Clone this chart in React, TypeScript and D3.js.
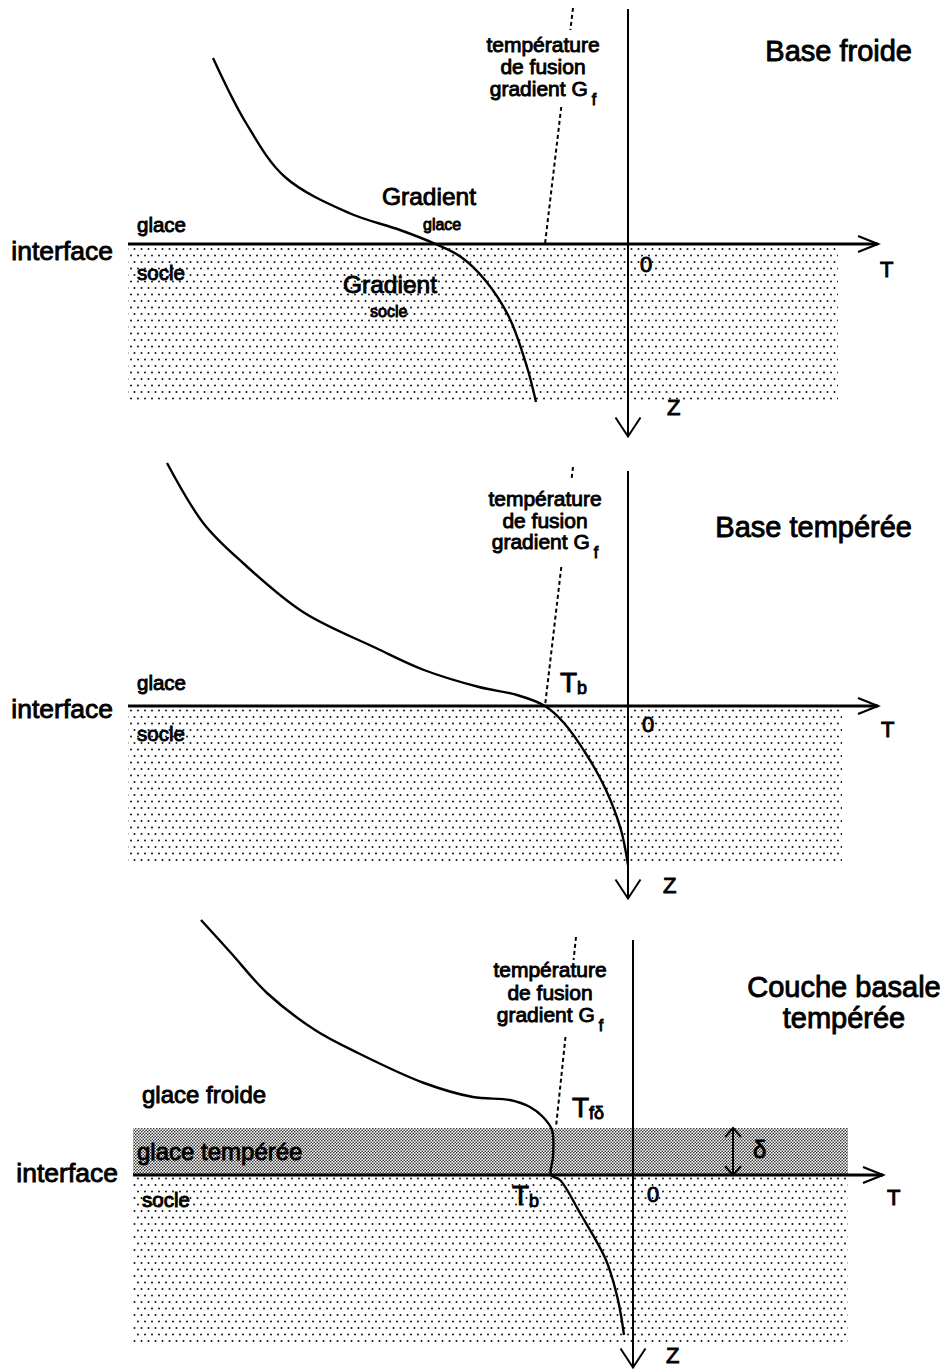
import React from 'react';
import * as d3 from 'd3';

// ---------- DATA (T: temperature units, 0 = T axis origin; z: depth units, 0 = interface, + downward) ----------
const TITLES: string[][] = [['Base froide'], ['Base tempérée'], ['Couche basale', 'tempérée']];

const PROFILE_COLD: [number, number][] = [
  [-83, -37.2], [-76.4, -24.2], [-68.6, -13.4], [-55.8, -6.2], [-45.6, -2.8], [-38.5, 0],
  [-33.4, 2.6], [-28.6, 7.2], [-23.8, 14.6], [-20.2, 24.6], [-18.4, 31.6],
];
const PROFILE_TEMPERATE: [number, number][] = [
  [-92.2, -48.6], [-84.8, -36.4], [-77, -28.6], [-65, -18.8], [-50.4, -11.6], [-40.8, -7.2],
  [-29.8, -3.8], [-22.2, -2.2], [-16.6, 0], [-12.8, 3.4], [-8, 10.2], [-4.4, 16.8], [-1.4, 24.8], [0, 31.8],
];
const PROFILE_LAYER: [number, number][] = [
  [-86.4, -51], [-80.4, -44.4], [-73.2, -36.4], [-63.6, -29], [-55, -24.4], [-41.8, -18.4],
  [-32, -15.6], [-24.6, -15], [-20.6, -13.6], [-18, -11.6], [-16.2, -9], [-16, -3.6], [-16.4, 0],
  [-14.6, 1], [-10.6, 7.6], [-5.4, 17], [-3, 25], [-1.8, 32],
];
const PROFILES = [PROFILE_COLD, PROFILE_TEMPERATE, PROFILE_LAYER];

// melting-point (G_f) lines: [top, bottom] and the depth gap left for its label
const MELT_LINES: [number, number][][] = [
  [[-11, -47.2], [-16.6, 0]],
  [[-11, -47.8], [-16.6, 0]],
  [[-11.4, -47.6], [-15.4, -9.6]],
];
const MELT_GAPS: [number, number][] = [[-42.8, -27.4], [-45.2, -27.8], [-43, -27.6]];
const MELT_LABEL = ['température', 'de fusion', 'gradient G'];
const MELT_LABEL_T = [-17, -16.6, -16.6];
const MELT_LABEL_Z = [[-38.4, -34, -29.6], [-40, -35.6, -31.4], [-39.6, -35, -30.6]];

const T_RANGE: [number, number] = [-100, 50];
const Z_RANGE: [number, number] = [-47, 38.5];
const SOCLE_RIGHT = [42, 42.8, 43];
const SOCLE_DEPTH = [31.2, 31.8, 33.4];
const DELTA_TOP = -9.4; // top of temperate basal layer
const DELTA_T = 20;

type Label = { text: string; T: number; z: number; kind: string; anchor?: string; sub?: string };
const LABELS: Label[][] = [
  [
    { text: 'glace', T: -98.2, z: -2.4, kind: 'small' },
    { text: 'socle', T: -98.2, z: 7.2, kind: 'small' },
    { text: 'interface', T: -103, z: 3.2, kind: 'iface', anchor: 'end' },
    { text: 'Gradient', T: -49.2, z: -7.8, kind: 'grad' },
    { text: 'glace', T: -41, z: -2.8, kind: 'tiny' },
    { text: 'Gradient', T: -57, z: 9.8, kind: 'grad' },
    { text: 'socle', T: -51.6, z: 14.6, kind: 'tiny' },
    { text: '0', T: 2.4, z: 5.6, kind: 'axis' },
    { text: 'T', T: 50.4, z: 6.6, kind: 'axis' },
    { text: 'Z', T: 7.8, z: 34.2, kind: 'axis' },
  ],
  [
    { text: 'glace', T: -98.2, z: -3.2, kind: 'small' },
    { text: 'socle', T: -98.2, z: 7, kind: 'small' },
    { text: 'interface', T: -103, z: 2.4, kind: 'iface', anchor: 'end' },
    { text: 'T', sub: 'b', T: -13.6, z: -2.8, kind: 'temp' },
    { text: '0', T: 2.8, z: 5.2, kind: 'axis' },
    { text: 'T', T: 50.6, z: 6.2, kind: 'axis' },
    { text: 'Z', T: 7, z: 37.4, kind: 'axis' },
  ],
  [
    { text: 'glace froide', T: -98.2, z: -14.4, kind: 'mid' },
    { text: 'glace tempérée', T: -99.2, z: -3, kind: 'mid' },
    { text: 'socle', T: -98.2, z: 6.4, kind: 'small' },
    { text: 'interface', T: -103, z: 1.4, kind: 'iface', anchor: 'end' },
    { text: 'T', sub: 'fδ', T: -12.2, z: -11.6, kind: 'temp' },
    { text: 'T', sub: 'b', T: -24.2, z: 6, kind: 'temp' },
    { text: '0', T: 2.8, z: 5.4, kind: 'axis' },
    { text: 'T', T: 50.8, z: 6, kind: 'axis' },
    { text: 'Z', T: 6.6, z: 37.6, kind: 'axis' },
    { text: 'δ', T: 24, z: -3.4, kind: 'mid' },
  ],
];
const TITLE_POS = [
  { T: 56.8, z: [-36.6], anchor: 'end' },
  { T: 56.8, z: [-33.8], anchor: 'end' },
  { T: 42.2, z: [-35.6, -29.4], anchor: 'middle' },
];

// ---------- LAYOUT / STYLE ----------
const PANEL_ORIGINS = [
  { ox: 628, oy: 244 },
  { ox: 628, oy: 706 },
  { ox: 633, oy: 1175 },
];
const UNIT = 5;
const FONT = "'Liberation Sans', Arial, Helvetica, sans-serif";
const SIZES: Record<string, number> = {
  small: 20.5, tiny: 16, iface: 26.5, grad: 24.5, axis: 22, temp: 28, mid: 24, title: 29, melt: 21,
};
const txt = { fontFamily: FONT, fill: '#000', stroke: '#000', strokeWidth: 0.9 } as const;

function Panel({ i }: { i: number }) {
  const { ox, oy } = PANEL_ORIGINS[i];
  const x = d3.scaleLinear().domain([0, 1]).range([ox, ox + UNIT]);
  const y = d3.scaleLinear().domain([0, 1]).range([oy, oy + UNIT]);
  const line = d3.line<[number, number]>().x(d => x(d[0])).y(d => y(d[1])).curve(d3.curveCatmullRom.alpha(0.5));
  const straight = d3.line<[number, number]>().x(d => x(d[0])).y(d => y(d[1]));

  const [mTop, mBot] = MELT_LINES[i];
  const tAt = (z: number) => mTop[0] + ((z - mTop[1]) / (mBot[1] - mTop[1])) * (mBot[0] - mTop[0]);
  const [g0, g1] = MELT_GAPS[i];
  const seg1: [number, number][] = [mTop, [tAt(g0), g0]];
  const seg2: [number, number][] = [[tAt(g1), g1], mBot];

  const xr = x(T_RANGE[1]);
  const yb = y(Z_RANGE[1]);
  return (
    <g>
      {/* socle stipple */}
      <rect x={x(T_RANGE[0])} y={y(0)} width={x(SOCLE_RIGHT[i]) - x(T_RANGE[0])}
        height={y(SOCLE_DEPTH[i]) - y(0)} fill="url(#dots)" />
      {i === 2 && (
        <rect x={x(T_RANGE[0])} y={y(DELTA_TOP)} width={x(SOCLE_RIGHT[i]) - x(T_RANGE[0])}
          height={y(0) - y(DELTA_TOP)} fill="url(#dense)" />
      )}
      {/* vertical axis */}
      <line x1={x(0)} x2={x(0)} y1={y(Z_RANGE[0])} y2={yb} stroke="#000" strokeWidth={2} />
      <path d={`M${x(0) - 12.5},${yb - 19}L${x(0)},${yb}L${x(0) + 12.5},${yb - 19}`} fill="none" stroke="#000" strokeWidth={2} />
      {/* interface / T axis */}
      <line x1={x(T_RANGE[0])} x2={xr} y1={y(0)} y2={y(0)} stroke="#000" strokeWidth={3} />
      <path d={`M${xr - 20},${y(0) - 8}L${xr},${y(0)}L${xr - 20},${y(0) + 8}`} fill="none" stroke="#000" strokeWidth={2.2} />
      {/* melting-point line */}
      <path d={straight(seg1) || ''} fill="none" stroke="#000" strokeWidth={2} strokeDasharray="4 3" />
      <path d={straight(seg2) || ''} fill="none" stroke="#000" strokeWidth={2} strokeDasharray="4 3" />
      {/* temperature profile */}
      <path d={line(PROFILES[i]) || ''} fill="none" stroke="#000" strokeWidth={2.4} />
      {/* delta arrow */}
      {i === 2 && (
        <g stroke="#000" strokeWidth={2} fill="none">
          <line x1={x(DELTA_T)} x2={x(DELTA_T)} y1={y(DELTA_TOP)} y2={y(0)} />
          <path d={`M${x(DELTA_T) - 8},${y(DELTA_TOP) + 9}L${x(DELTA_T)},${y(DELTA_TOP)}L${x(DELTA_T) + 8},${y(DELTA_TOP) + 9}`} />
          <path d={`M${x(DELTA_T) - 8},${y(0) - 9}L${x(DELTA_T)},${y(0)}L${x(DELTA_T) + 8},${y(0) - 9}`} />
        </g>
      )}
      {/* melting label */}
      {MELT_LABEL.map((s, k) => (
        <text key={k} x={x(MELT_LABEL_T[i])} y={y(MELT_LABEL_Z[i][k])} textAnchor="middle"
          fontSize={SIZES.melt} {...txt}>
          {s}
          {k === 2 && <tspan dx={4} dy={9} fontSize={16}>f</tspan>}
        </text>
      ))}
      {/* title */}
      {TITLES[i].map((s, k) => (
        <text key={k} x={x(TITLE_POS[i].T)} y={y(TITLE_POS[i].z[k])} textAnchor={TITLE_POS[i].anchor as any}
          fontSize={SIZES.title} {...txt}>{s}</text>
      ))}
      {/* labels */}
      {LABELS[i].map((l, k) => (
        <text key={k} x={x(l.T)} y={y(l.z)} textAnchor={(l.anchor || 'start') as any}
          fontSize={SIZES[l.kind]} {...txt}>
          {l.text}
          {l.sub && <tspan dy={2} fontSize={18}>{l.sub}</tspan>}
        </text>
      ))}
    </g>
  );
}

export default function App() {
  return (
    <svg width={948} height={1369} style={{ position: 'absolute', left: 0, top: 0, background: '#fff' }}>
      <defs>
        <pattern id="dots" width={7} height={13} patternUnits="userSpaceOnUse">
          <circle cx={1.5} cy={2} r={1} fill="#111" />
          <circle cx={5} cy={8.5} r={1} fill="#111" />
        </pattern>
        <pattern id="dense" width={3} height={3} patternUnits="userSpaceOnUse">
          <circle cx={0.75} cy={0.75} r={0.85} fill="#333" />
          <circle cx={2.25} cy={2.25} r={0.85} fill="#333" />
        </pattern>
      </defs>
      <rect width={948} height={1369} fill="#fff" />
      {[0, 1, 2].map(i => <Panel key={i} i={i} />)}
    </svg>
  );
}
